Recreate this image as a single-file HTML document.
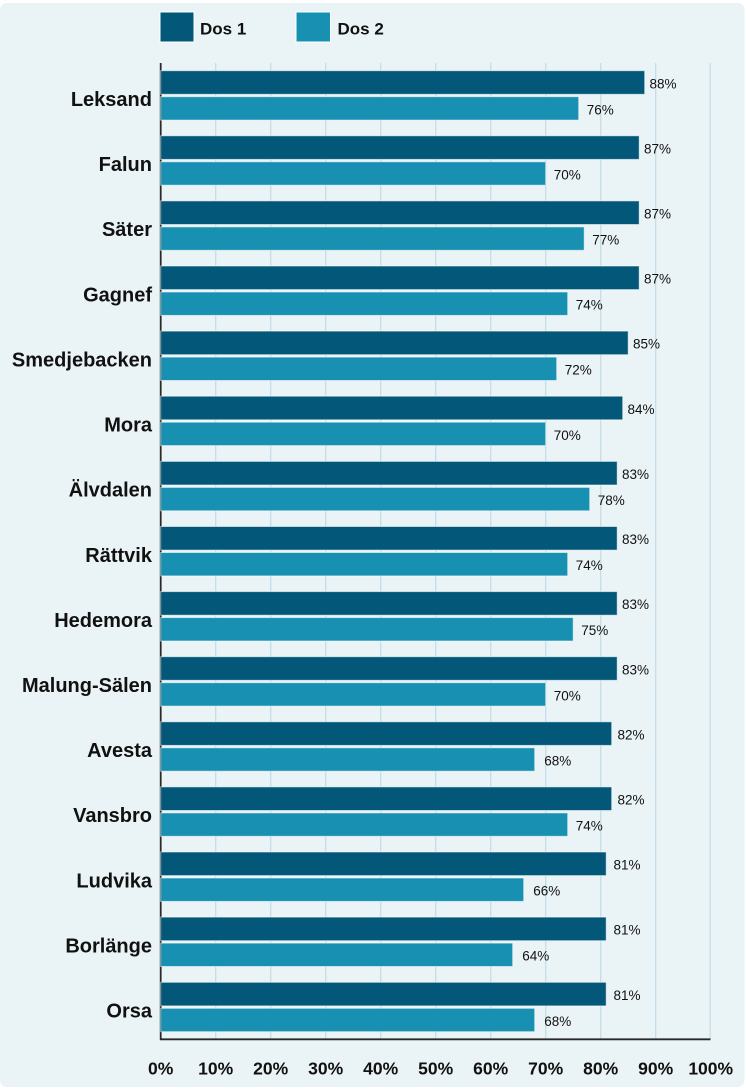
<!DOCTYPE html>
<html><head><meta charset="utf-8"><style>
html,body{margin:0;padding:0;background:#fff;}
svg{display:block;}
text{font-family:"Liberation Sans",sans-serif;}
</style></head><body>
<svg width="746" height="1089" viewBox="0 0 746 1089" xmlns="http://www.w3.org/2000/svg">
<rect x="0" y="3" width="744.5" height="1084" rx="7" fill="#eaf3f5"/>
<!-- legend -->
<rect x="160" y="12" width="34" height="30" fill="#035779" stroke="#fff" stroke-width="1"/>
<text x="200" y="34.3" font-size="17" font-weight="bold" fill="#111">Dos 1</text>
<rect x="296" y="12" width="34.5" height="30" fill="#1790b1" stroke="#fff" stroke-width="1"/>
<text x="337.5" y="34.3" font-size="17" font-weight="bold" fill="#111">Dos 2</text>
<!-- gridlines -->
<g stroke="#c2dce8" stroke-width="1.2">
<line x1="215.7" y1="63" x2="215.7" y2="1039"/>
<line x1="270.7" y1="63" x2="270.7" y2="1039"/>
<line x1="325.7" y1="63" x2="325.7" y2="1039"/>
<line x1="380.7" y1="63" x2="380.7" y2="1039"/>
<line x1="435.7" y1="63" x2="435.7" y2="1039"/>
<line x1="490.7" y1="63" x2="490.7" y2="1039"/>
<line x1="545.7" y1="63" x2="545.7" y2="1039"/>
<line x1="600.7" y1="63" x2="600.7" y2="1039"/>
<line x1="655.7" y1="63" x2="655.7" y2="1039"/>
<line x1="710.2" y1="63" x2="710.2" y2="1039"/>
</g>
<!-- axes -->
<line x1="160.7" y1="63" x2="160.7" y2="1040" stroke="#2a2a2a" stroke-width="1.8"/>
<line x1="160" y1="1039.3" x2="710.5" y2="1039.3" stroke="#2a2a2a" stroke-width="1.8"/>
<!-- tick labels -->
<g font-size="17.5" font-weight="bold" fill="#111" text-anchor="middle">
<text x="160.7" y="1074.3">0%</text>
<text x="215.7" y="1074.3">10%</text>
<text x="270.7" y="1074.3">20%</text>
<text x="325.7" y="1074.3">30%</text>
<text x="380.7" y="1074.3">40%</text>
<text x="435.7" y="1074.3">50%</text>
<text x="490.7" y="1074.3">60%</text>
<text x="545.7" y="1074.3">70%</text>
<text x="600.7" y="1074.3">80%</text>
<text x="655.7" y="1074.3">90%</text>
<text x="710.7" y="1074.3">100%</text>
</g>
<g font-size="20" font-weight="bold" fill="#111" text-anchor="end">
<text x="152" y="106.0">Leksand</text>
<text x="152" y="171.1">Falun</text>
<text x="152" y="236.2">Säter</text>
<text x="152" y="301.3">Gagnef</text>
<text x="152" y="366.4">Smedjebacken</text>
<text x="152" y="431.5">Mora</text>
<text x="152" y="496.7">Älvdalen</text>
<text x="152" y="561.8">Rättvik</text>
<text x="152" y="626.9">Hedemora</text>
<text x="152" y="692.0">Malung-Sälen</text>
<text x="152" y="757.1">Avesta</text>
<text x="152" y="822.2">Vansbro</text>
<text x="152" y="887.3">Ludvika</text>
<text x="152" y="952.4">Borlänge</text>
<text x="152" y="1017.5">Orsa</text>
</g>
<g stroke="#ffffff" stroke-opacity="0.55" stroke-width="1">
<rect x="160.7" y="70.7" width="484.0" height="23.6" fill="#035779"/>
<rect x="160.7" y="96.7" width="418.0" height="23.4" fill="#1790b1"/>
<rect x="160.7" y="135.8" width="478.5" height="23.6" fill="#035779"/>
<rect x="160.7" y="161.8" width="385.0" height="23.4" fill="#1790b1"/>
<rect x="160.7" y="200.9" width="478.5" height="23.6" fill="#035779"/>
<rect x="160.7" y="226.9" width="423.5" height="23.4" fill="#1790b1"/>
<rect x="160.7" y="266.0" width="478.5" height="23.6" fill="#035779"/>
<rect x="160.7" y="292.0" width="407.0" height="23.4" fill="#1790b1"/>
<rect x="160.7" y="331.1" width="467.5" height="23.6" fill="#035779"/>
<rect x="160.7" y="357.1" width="396.0" height="23.4" fill="#1790b1"/>
<rect x="160.7" y="396.2" width="462.0" height="23.6" fill="#035779"/>
<rect x="160.7" y="422.2" width="385.0" height="23.4" fill="#1790b1"/>
<rect x="160.7" y="461.4" width="456.5" height="23.6" fill="#035779"/>
<rect x="160.7" y="487.4" width="429.0" height="23.4" fill="#1790b1"/>
<rect x="160.7" y="526.5" width="456.5" height="23.6" fill="#035779"/>
<rect x="160.7" y="552.5" width="407.0" height="23.4" fill="#1790b1"/>
<rect x="160.7" y="591.6" width="456.5" height="23.6" fill="#035779"/>
<rect x="160.7" y="617.6" width="412.5" height="23.4" fill="#1790b1"/>
<rect x="160.7" y="656.7" width="456.5" height="23.6" fill="#035779"/>
<rect x="160.7" y="682.7" width="385.0" height="23.4" fill="#1790b1"/>
<rect x="160.7" y="721.8" width="451.0" height="23.6" fill="#035779"/>
<rect x="160.7" y="747.8" width="374.0" height="23.4" fill="#1790b1"/>
<rect x="160.7" y="786.9" width="451.0" height="23.6" fill="#035779"/>
<rect x="160.7" y="812.9" width="407.0" height="23.4" fill="#1790b1"/>
<rect x="160.7" y="852.0" width="445.5" height="23.6" fill="#035779"/>
<rect x="160.7" y="878.0" width="363.0" height="23.4" fill="#1790b1"/>
<rect x="160.7" y="917.1" width="445.5" height="23.6" fill="#035779"/>
<rect x="160.7" y="943.1" width="352.0" height="23.4" fill="#1790b1"/>
<rect x="160.7" y="982.3" width="445.5" height="23.6" fill="#035779"/>
<rect x="160.7" y="1008.3" width="374.0" height="23.4" fill="#1790b1"/>
</g>
<g font-size="13.5" fill="#111">
<text x="649.5" y="88.3">88%</text><text x="586.7" y="114.3">76%</text>
<text x="644.0" y="153.4">87%</text><text x="553.7" y="179.4">70%</text>
<text x="644.0" y="218.5">87%</text><text x="592.2" y="244.5">77%</text>
<text x="644.0" y="283.6">87%</text><text x="575.7" y="309.6">74%</text>
<text x="633.0" y="348.7">85%</text><text x="564.7" y="374.7">72%</text>
<text x="627.5" y="413.8">84%</text><text x="553.7" y="439.8">70%</text>
<text x="622.0" y="479.0">83%</text><text x="597.7" y="505.0">78%</text>
<text x="622.0" y="544.1">83%</text><text x="575.7" y="570.1">74%</text>
<text x="622.0" y="609.2">83%</text><text x="581.2" y="635.2">75%</text>
<text x="622.0" y="674.3">83%</text><text x="553.7" y="700.3">70%</text>
<text x="617.5" y="739.4">82%</text><text x="544.2" y="765.4">68%</text>
<text x="617.5" y="804.5">82%</text><text x="575.7" y="830.5">74%</text>
<text x="613.5" y="869.6">81%</text><text x="533.2" y="895.6">66%</text>
<text x="613.5" y="934.7">81%</text><text x="522.2" y="960.7">64%</text>
<text x="613.5" y="999.9">81%</text><text x="544.2" y="1025.9">68%</text>
</g>
</svg>
</body></html>
